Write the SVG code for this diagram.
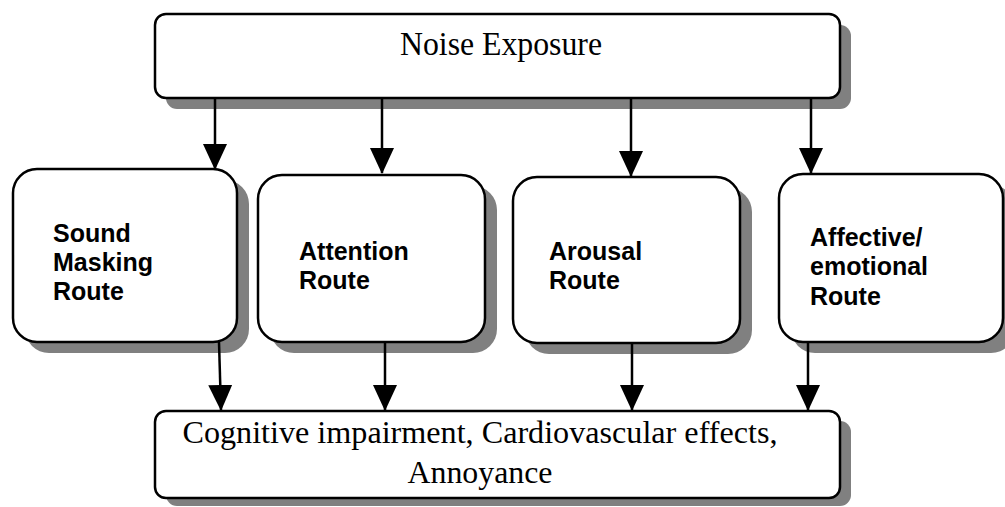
<svg xmlns="http://www.w3.org/2000/svg" width="1005" height="507" viewBox="0 0 1005 507">
<style>
.box{fill:#fff;stroke:#000;stroke-width:2.5}
.shadow{fill:#808080}
.serif{font-family:"Liberation Serif","Times New Roman",serif;fill:#000}
.sans{font-family:"Liberation Sans",Arial,sans-serif;font-weight:bold;font-size:25px;fill:#000}
.conn{stroke:#000;stroke-width:2.5;fill:none;marker-end:url(#ah)}
</style>
<defs>
<marker id="ah" markerUnits="userSpaceOnUse" markerWidth="26" markerHeight="24" viewBox="0 0 26 24" refX="25" refY="12" orient="auto">
<path d="M0,0 L26,12 L0,24 Z" fill="#000"/>
</marker>
</defs>
<rect width="1005" height="507" fill="#fff"/>
<g id="noise-exposure">
<rect class="shadow" x="166" y="25" width="685" height="84" rx="11"/>
<rect class="box" x="155" y="14" width="685" height="84" rx="11"/>
<text class="serif" x="501" y="55" font-size="33" text-anchor="middle" textLength="202" lengthAdjust="spacingAndGlyphs">Noise Exposure</text>
</g>
<g id="sound-masking">
<rect class="shadow" x="25" y="180" width="224" height="173" rx="24"/>
<rect class="box" x="13" y="169" width="224" height="173" rx="24"/>
<text class="sans" x="53" y="242">Sound</text>
<text class="sans" x="53" y="271">Masking</text>
<text class="sans" x="53" y="300">Route</text>
</g>
<g id="attention">
<rect class="shadow" x="270" y="186" width="227" height="167" rx="24"/>
<rect class="box" x="258" y="175" width="227" height="167" rx="24"/>
<text class="sans" x="299" y="260">Attention</text>
<text class="sans" x="299" y="289">Route</text>
</g>
<g id="arousal">
<rect class="shadow" x="525" y="188" width="227" height="166" rx="24"/>
<rect class="box" x="513" y="177" width="227" height="166" rx="24"/>
<text class="sans" x="549" y="260">Arousal</text>
<text class="sans" x="549" y="289">Route</text>
</g>
<g id="affective">
<rect class="shadow" x="791" y="185" width="224" height="168" rx="24"/>
<rect class="box" x="779" y="174" width="224" height="168" rx="24"/>
<text class="sans" x="810" y="246">Affective/</text>
<text class="sans" x="810" y="275">emotional</text>
<text class="sans" x="810" y="305">Route</text>
</g>
<g id="outcomes">
<rect class="shadow" x="166" y="421" width="685" height="85" rx="11"/>
<rect class="box" x="155" y="411" width="685" height="87" rx="11"/>
<text class="serif" x="480" y="443" font-size="32" text-anchor="middle" textLength="595" lengthAdjust="spacingAndGlyphs">Cognitive impairment, Cardiovascular effects,</text>
<text class="serif" x="480" y="483" font-size="32" text-anchor="middle" textLength="145" lengthAdjust="spacingAndGlyphs">Annoyance</text>
</g>
<g id="connectors">
<line class="conn" x1="215" y1="98" x2="215" y2="169"/>
<line class="conn" x1="382" y1="98" x2="382" y2="173"/>
<line class="conn" x1="631" y1="98" x2="631" y2="176"/>
<line class="conn" x1="811" y1="98" x2="811" y2="173"/>
<line class="conn" x1="219" y1="342" x2="221" y2="410"/>
<line class="conn" x1="385" y1="342" x2="385" y2="410"/>
<line class="conn" x1="632" y1="343" x2="632" y2="410"/>
<line class="conn" x1="808" y1="342" x2="808" y2="410"/>
</g>
</svg>
